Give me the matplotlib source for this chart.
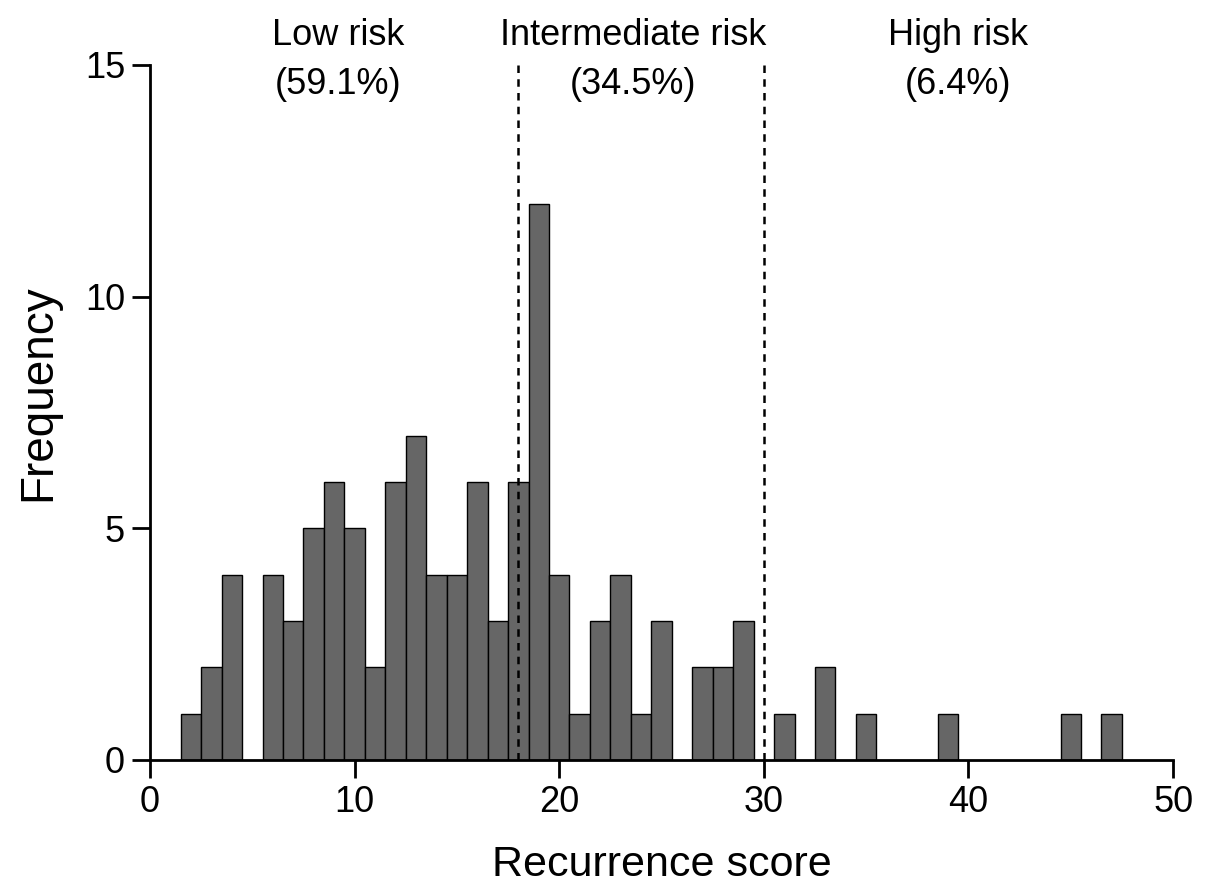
import matplotlib.pyplot as plt

plt.rcParams['font.family'] = ['Liberation Sans', 'DejaVu Sans']

# recurrence score -> number of patients
scores = [2, 3, 4, 6, 7, 8, 9, 10, 11, 12, 13, 14, 15, 16, 17, 18, 19,
          20, 21, 22, 23, 24, 25, 27, 28, 29, 31, 33, 35, 39, 45, 47]
counts = [1, 2, 4, 4, 3, 5, 6, 5, 2, 6, 7, 4, 4, 6, 3, 6, 12,
          4, 1, 3, 4, 1, 3, 2, 2, 3, 1, 2, 1, 1, 1, 1]

cutoffs = [18, 30]
groups = ["Low risk", "Intermediate risk", "High risk"]
shares = ["(59.1%)", "(34.5%)", "(6.4%)"]
label_x = [9.2, 23.6, 39.5]

fig = plt.figure(figsize=(12.05, 8.94), dpi=100)
ax = fig.add_axes([0.1245, 0.15, 0.849, 0.7773])

ax.bar(scores, counts, width=1.0, color='#666666', edgecolor='black', linewidth=1.0)
for c in cutoffs:
    ax.vlines(c, 0, 15, colors='black', linestyles=(0, (3, 2.5)), linewidth=1.8)

for x, g, s in zip(label_x, groups, shares):
    ax.text(x, 15.63, g, ha='center', va='center', fontsize=26)
    ax.text(x, 14.57, s, ha='center', va='center', fontsize=26)

ax.set_xlim(0, 50)
ax.set_ylim(0, 15)
ax.set_xticks([0, 10, 20, 30, 40, 50])
ax.set_yticks([0, 5, 10, 15])
ax.spines['top'].set_visible(False)
ax.spines['right'].set_visible(False)
ax.spines['left'].set_linewidth(2)
ax.spines['bottom'].set_linewidth(2)
ax.tick_params(width=2, length=13, labelsize=26, pad=5)
ax.set_xlabel("Recurrence score", fontsize=31, labelpad=18)
ax.set_ylabel("Frequency", fontsize=33)
ax.yaxis.set_label_coords(-0.088, 0.528)

fig.savefig("out.png", dpi=100)
